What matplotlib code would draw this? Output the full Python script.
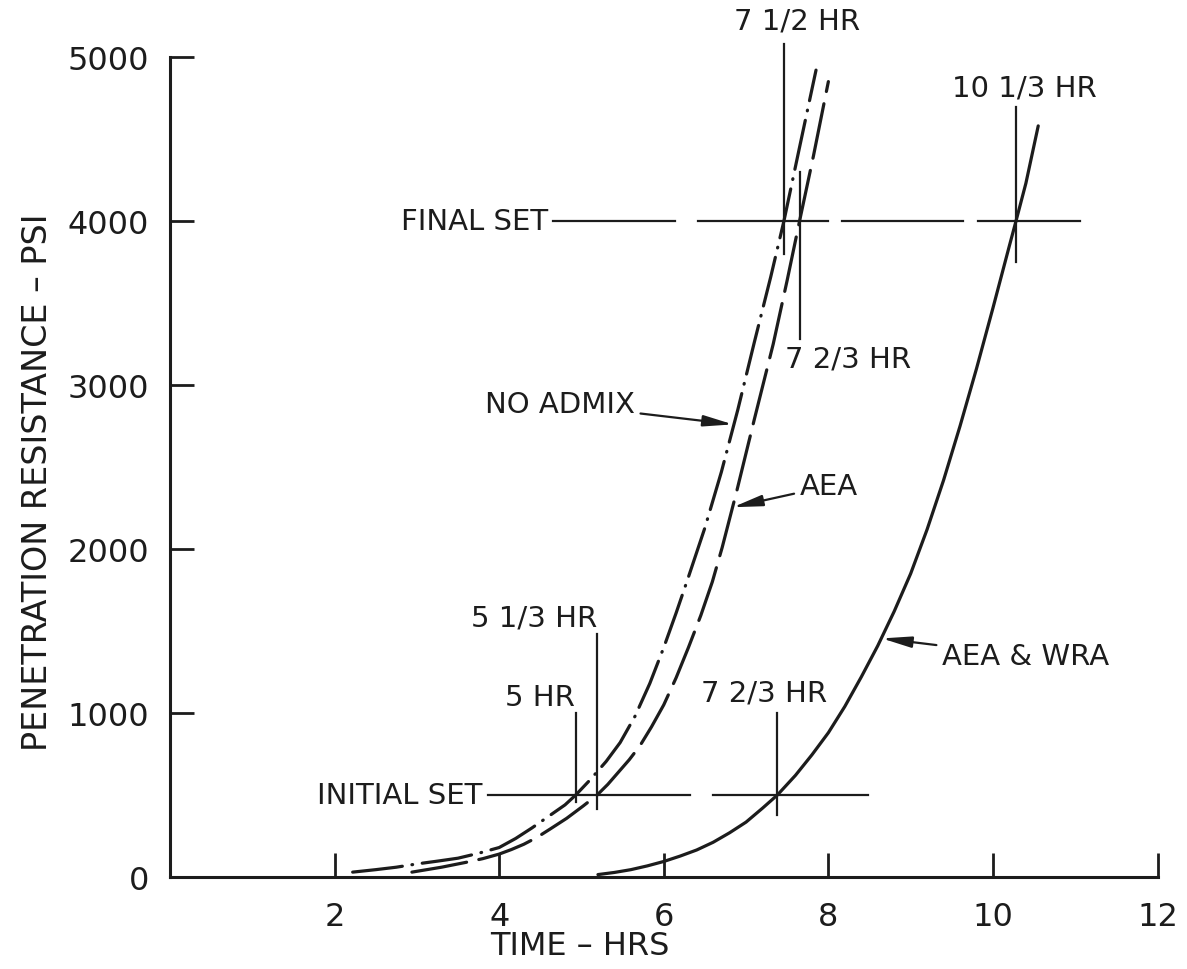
import matplotlib.pyplot as plt
import numpy as np

plt.rcParams['font.family'] = 'DejaVu Sans'
plt.rcParams['lines.scale_dashes'] = False

ink = '#1c1c1c'

# curves (time in hrs, penetration resistance in psi)
no_admix_t = [2.22, 2.5, 2.75, 3.0, 3.25, 3.5, 3.75, 4.0, 4.2, 4.4, 4.6, 4.8, 4.93, 5.1, 5.3,
              5.47, 5.65, 5.83, 6.0, 6.15, 6.3, 6.5, 6.7, 6.9, 7.1, 7.3, 7.46, 7.65, 7.85]
no_admix_p = [30, 45, 60, 80, 97, 115, 145, 180, 235, 300, 370, 440, 500, 590, 705,
              820, 980, 1180, 1400, 1610, 1830, 2130, 2470, 2850, 3260, 3660, 4000, 4450, 4920]

aea_t = [2.94, 3.3, 3.6, 3.8, 4.0, 4.15, 4.3, 4.46, 4.62, 4.82, 5.02, 5.19, 5.32, 5.45, 5.58,
         5.71, 5.85, 6.0, 6.15, 6.3, 6.45, 6.59, 6.71, 6.89, 7.1, 7.33, 7.5, 7.65, 7.82, 8.0]
aea_p = [30, 60, 90, 112, 140, 168, 200, 242, 293, 358, 433, 500, 565, 640, 715,
         800, 915, 1050, 1215, 1400, 1595, 1800, 2010, 2360, 2790, 3250, 3640, 4000, 4400, 4850]

wra_t = [5.2, 5.4, 5.6, 5.8, 6.0, 6.2, 6.4, 6.6, 6.8, 7.0, 7.2, 7.38, 7.6, 7.8, 8.0, 8.2, 8.4,
         8.6, 8.8, 9.0, 9.2, 9.4, 9.6, 9.8, 10.0, 10.2, 10.28, 10.4, 10.55]
wra_p = [15, 28, 45, 68, 95, 128, 165, 212, 270, 335, 420, 500, 620, 745, 880, 1040, 1220,
         1410, 1620, 1850, 2120, 2420, 2750, 3100, 3470, 3850, 4000, 4230, 4580]

# set levels and the broken reference lines
initial_set = 500
final_set = 4000
initial_segments = [(3.86, 6.32), (6.6, 8.48)]
final_segments = [(4.65, 6.14), (6.42, 8.0), (8.17, 9.64), (9.82, 11.06)]

# vertical marker lines at the set times
marker_t = [4.93, 5.19, 7.38, 7.46, 7.65, 10.28]
marker_lo = [460, 415, 380, 3800, 3280, 3750]
marker_hi = [1000, 1480, 1000, 5080, 4300, 4695]

fig = plt.figure(figsize=(11.87, 9.70), dpi=100)
ax = fig.add_axes([0.1432, 0.0948, 0.832, 0.8454])
ax.set_xlim(0, 12)
ax.set_ylim(0, 5000)

for s in ['top', 'right']:
    ax.spines[s].set_visible(False)
for s in ['left', 'bottom']:
    ax.spines[s].set_linewidth(2.2)
    ax.spines[s].set_color(ink)

ax.set_xticks([2, 4, 6, 8, 10, 12])
ax.set_xticklabels(['2', '4', '6', '8', '10', '12'])
ax.set_yticks([0, 1000, 2000, 3000, 4000, 5000])
ax.tick_params(direction='in', length=17, width=2, colors=ink, labelsize=23)
ax.tick_params(axis='x', pad=17)
ax.tick_params(axis='y', pad=15)

ax.plot(no_admix_t, no_admix_p, color=ink, lw=2.3,
        linestyle=(0, (36, 7, 0.5, 7)), dash_capstyle='round', solid_joinstyle='round')
ax.plot(aea_t, aea_p, color=ink, lw=2.3,
        linestyle=(0, (40, 9)), dash_capstyle='round', solid_joinstyle='round')
ax.plot(wra_t, wra_p, color=ink, lw=2.3, solid_capstyle='round', solid_joinstyle='round')

for a, b in initial_segments:
    ax.plot([a, b], [initial_set, initial_set], color=ink, lw=1.6)
for a, b in final_segments:
    ax.plot([a, b], [final_set, final_set], color=ink, lw=1.6)
for t, lo, hi in zip(marker_t, marker_lo, marker_hi):
    ax.plot([t, t], [lo, hi], color=ink, lw=1.6, clip_on=False)

fs = 21
ax.text(7.62, 5220, '7 1/2 HR', ha='center', va='center', fontsize=fs, color=ink)
ax.text(10.38, 4817, '10 1/3 HR', ha='center', va='center', fontsize=fs, color=ink)
ax.text(4.59, 4000, 'FINAL SET', ha='right', va='center', fontsize=fs, color=ink)
ax.text(7.47, 3160, '7 2/3 HR', ha='left', va='center', fontsize=fs, color=ink)
ax.text(4.43, 1585, '5 1/3 HR', ha='center', va='center', fontsize=fs, color=ink)
ax.text(4.50, 1098, '5 HR', ha='center', va='center', fontsize=fs, color=ink)
ax.text(3.80, 500, 'INITIAL SET', ha='right', va='center', fontsize=fs, color=ink)
ax.text(7.22, 1128, '7 2/3 HR', ha='center', va='center', fontsize=fs, color=ink)

arrow = dict(arrowstyle='-|>,head_length=0.85,head_width=0.16', lw=1.6,
             color=ink, shrinkA=2, shrinkB=0)
ax.annotate('NO ADMIX', xy=(6.84, 2760), xytext=(5.65, 2884), ha='right', va='center',
            fontsize=fs, color=ink, arrowprops=arrow)
ax.annotate('AEA', xy=(6.84, 2255), xytext=(7.65, 2384), ha='left', va='center',
            fontsize=fs, color=ink, arrowprops=arrow)
ax.annotate('AEA & WRA', xy=(8.65, 1455), xytext=(9.38, 1348), ha='left', va='center',
            fontsize=fs, color=ink, arrowprops=arrow)

fig.text(580 / 1187, 1 - 947 / 970, 'TIME – HRS', ha='center', va='center',
         fontsize=23, color=ink)
fig.text(38 / 1187, 1 - 482 / 970, 'PENETRATION RESISTANCE – PSI', ha='center', va='center',
         rotation=90, fontsize=24, color=ink)

fig.savefig('out.png', dpi=100, facecolor='white')
